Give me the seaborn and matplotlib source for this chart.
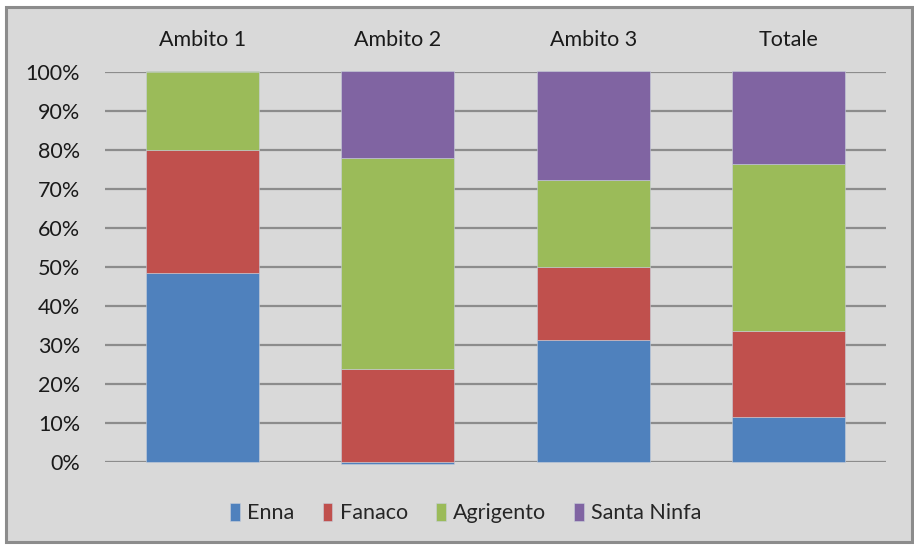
import matplotlib
matplotlib.use("Agg")
import matplotlib.pyplot as plt
from matplotlib.patches import Rectangle
import numpy as np
import pandas as pd
import seaborn as sns

categories = ["Ambito 1", "Ambito 2", "Ambito 3", "Totale"]
series_names = ["Enna", "Fanaco", "Agrigento", "Santa Ninfa"]
enna = [48.4, -0.5, 31.3, 11.6]
fanaco = [31.4, 23.8, 18.7, 22.0]
agrigento = [20.2, 54.1, 22.3, 42.7]
santa_ninfa = [0.0, 22.1, 27.7, 23.7]
y_ticks = [0, 10, 20, 30, 40, 50, 60, 70, 80, 90, 100]
y_tick_labels = [f"{t}%" for t in y_ticks]

colors = ["#4f81bd", "#c0504d", "#9bbb59", "#8064a2"]

sns.set_theme(style="white")
plt.rcParams["font.family"] = ["Lato", "DejaVu Sans"]

W, H = 914, 546
FS = 15.5
fig = plt.figure(figsize=(W / 100, H / 100), dpi=100, facecolor="white")

# grey chart frame
fig.patches.append(Rectangle((6 / W, 1 - 542 / H), (912 - 6) / W, (542 - 7) / H,
                             transform=fig.transFigure, facecolor="#d9d9d9",
                             edgecolor="#8c8c8c", linewidth=2.2, zorder=-5))

ax = fig.add_axes([105 / W, 1 - 462.3 / H, (886 - 105) / W, (462.3 - 71.5) / H])
ax.set_facecolor("none")
ax.set_zorder(2)

series = [enna, fanaco, agrigento, santa_ninfa]
pos_base = np.zeros(len(categories))
neg_base = np.zeros(len(categories))
for name, vals, col in zip(series_names, series, colors):
    vals = np.array(vals, dtype=float)
    bottoms = np.where(vals >= 0, pos_base, neg_base)
    df = pd.DataFrame({"cat": categories, "val": vals})
    sns.barplot(data=df, x="cat", y="val", order=categories, bottom=bottoms,
                color=col, saturation=1, width=0.58, ax=ax, label=name,
                edgecolor="#c8cfdb", linewidth=0.4, clip_on=False, zorder=3)
    pos_base = pos_base + np.where(vals >= 0, vals, 0)
    neg_base = neg_base + np.where(vals < 0, vals, 0)

ax.set_xlim(-0.5, 3.5)
ax.set_ylim(0, 100)
ax.set_yticks(y_ticks)
ax.set_yticklabels(y_tick_labels)
ax.set_xlabel("")
ax.set_ylabel("")
ax.xaxis.tick_top()
ax.tick_params(axis="x", length=0, pad=15.5, labelsize=FS, colors="#1a1a1a")
ax.tick_params(axis="y", length=0, pad=18, labelsize=FS, colors="#1a1a1a")
for s in ax.spines.values():
    s.set_visible(False)
ax.set_axisbelow(True)
ax.yaxis.grid(True, color="#8c8c8c", linewidth=1.6)
ax.xaxis.grid(False)

handles, labels = ax.get_legend_handles_labels()
if ax.get_legend() is not None:
    ax.get_legend().remove()
fig.legend(handles, labels, loc="center", bbox_to_anchor=(466 / W, 1 - 513 / H),
           ncol=4, frameon=False, fontsize=FS, handlelength=0.45, handleheight=0.95,
           handletextpad=0.35, columnspacing=1.3)

fig.savefig("out.png", dpi=100, facecolor="white")
